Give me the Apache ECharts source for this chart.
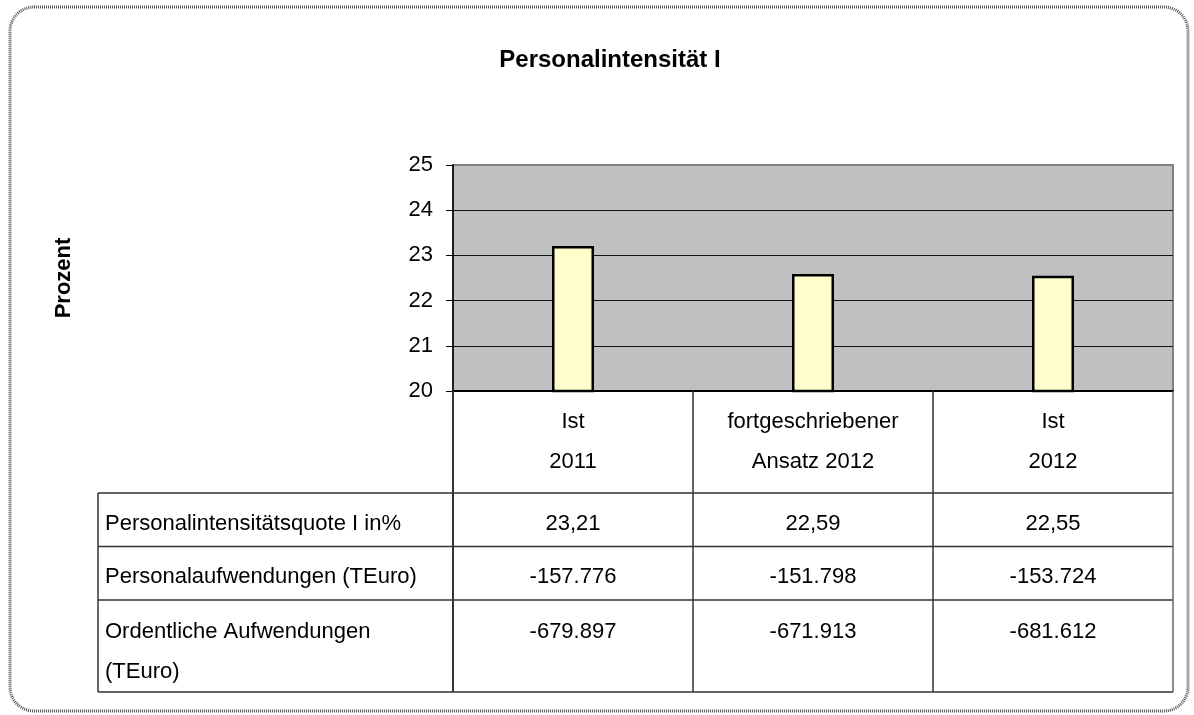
<!DOCTYPE html>
<html>
<head>
<meta charset="utf-8">
<title>Personalintensität I</title>
<script src="https://cdn.jsdelivr.net/npm/echarts@6/dist/echarts.min.js"></script>
<style>
  html, body { margin: 0; padding: 0; background: #fff; }
  #chart { width: 1194px; height: 715px; }
</style>
</head>
<body>
<div id="chart"></div>
<script>
  // Daten
  var categories = ['Ist\n2011', 'fortgeschriebener\nAnsatz 2012', 'Ist\n2012'];
  var quote = [23.21, 22.59, 22.55];
  var personalaufwand = [-157776, -151798, -153724];
  var ordentlicheAufwand = [-679897, -671913, -681612];
  var rowLabels = ['Personalintensitätsquote I in%', 'Personalaufwendungen (TEuro)', 'Ordentliche Aufwendungen\n(TEuro)'];
  var yMin = 20, yMax = 25, yStep = 1;

  var FONT = '"Liberation Sans", Arial, sans-serif';

  // Layout
  var gridLeft = 453, gridTop = 165, gridWidth = 720, gridHeight = 226;
  var gridBottom = gridTop + gridHeight;
  var tableLeft = 98, tableRight = gridLeft + gridWidth;
  var rowLines = [493, 546.5, 600, 692];
  var lineColor = '#333';

  function fmtDe(v) {
    var neg = v < 0;
    var s = String(Math.abs(v)).replace(/\B(?=(\d{3})+(?!\d))/g, '.');
    return (neg ? '-' : '') + s;
  }
  function fmtPct(v) {
    return v.toFixed(2).replace('.', ',');
  }

  var rows = [
    quote.map(fmtPct),
    personalaufwand.map(fmtDe),
    ordentlicheAufwand.map(fmtDe)
  ];
  var rowTextY = [524, 577, 632];

  var colW = gridWidth / categories.length;
  var graphic = [];

  // äußerer gepunkteter Rahmen
  graphic.push({
    type: 'rect', z: 0,
    shape: { x: 10, y: 7, width: 1178, height: 704, r: 24 },
    style: { fill: 'none', stroke: '#555', lineWidth: 3, lineDash: [1, 1] }
  });

  // Tabelle: horizontale Linien
  rowLines.forEach(function (y) {
    graphic.push({
      type: 'line', z: 10,
      shape: { x1: tableLeft, y1: y, x2: tableRight, y2: y },
      style: { stroke: lineColor, lineWidth: 1.5 }
    });
  });
  // linke Linie
  graphic.push({
    type: 'line', z: 10,
    shape: { x1: tableLeft, y1: rowLines[0], x2: tableLeft, y2: rowLines[3] },
    style: { stroke: lineColor, lineWidth: 1.5 }
  });
  // Spaltenlinien
  for (var c = 0; c <= categories.length; c++) {
    var x = gridLeft + c * colW;
    graphic.push({
      type: 'line', z: 10,
      shape: { x1: x, y1: gridBottom, x2: x, y2: rowLines[3] },
      style: { stroke: c === categories.length ? '#666' : lineColor, lineWidth: c === 0 ? 2 : 1.5 }
    });
  }

  // Zeilenbeschriftungen
  rowLabels.forEach(function (label, i) {
    graphic.push({
      type: 'text', z: 11,
      x: 105,
      y: i === 2 ? rowTextY[i] - 20 : rowTextY[i],
      style: {
        text: label, fill: '#000', font: '22px ' + FONT,
        lineHeight: 40, align: 'left', verticalAlign: i === 2 ? 'top' : 'middle'
      }
    });
  });

  // Werte
  rows.forEach(function (vals, i) {
    vals.forEach(function (v, j) {
      graphic.push({
        type: 'text', z: 11,
        x: gridLeft + colW * (j + 0.5), y: rowTextY[i],
        style: {
          text: v, fill: '#000', font: '22px ' + FONT,
          align: 'center', verticalAlign: 'middle'
        }
      });
    });
  });

  var chart = echarts.init(document.getElementById('chart'));
  chart.setOption({
    backgroundColor: '#fff',
    animation: false,
    title: {
      text: 'Personalintensität I',
      left: 605, top: 43, textAlign: 'center',
      textStyle: { fontFamily: FONT, fontSize: 24, fontWeight: 'bold', color: '#000' }
    },
    grid: {
      left: gridLeft, top: gridTop, width: gridWidth, height: gridHeight,
      show: true, backgroundColor: '#C0C0C0', borderColor: '#808080', borderWidth: 2,
      containLabel: false
    },
    xAxis: {
      type: 'category',
      data: categories,
      axisLine: { show: true, lineStyle: { color: '#000', width: 2 } },
      axisTick: { show: false },
      axisLabel: {
        color: '#000', fontFamily: FONT, fontSize: 22, lineHeight: 40,
        margin: 11, interval: 0
      },
      splitLine: { show: false }
    },
    yAxis: {
      type: 'value',
      min: yMin, max: yMax, interval: yStep,
      name: 'Prozent',
      nameLocation: 'middle',
      nameGap: 378,
      nameRotate: 90,
      nameTextStyle: { fontFamily: FONT, fontSize: 22, fontWeight: 'bold', color: '#000' },
      axisLine: { show: true, lineStyle: { color: '#000', width: 1.5 } },
      axisTick: { show: true, length: 7, lineStyle: { color: '#000' } },
      axisLabel: { color: '#000', fontFamily: FONT, fontSize: 22, margin: 20 },
      splitLine: { show: true, showMaxLine: false, lineStyle: { color: '#111', width: 1.2 } }
    },
    series: [{
      type: 'bar',
      data: quote,
      barWidth: 42,
      itemStyle: { color: '#FFFFCC', borderColor: '#000', borderWidth: 2.5 }
    }],
    graphic: graphic
  });
</script>
</body>
</html>
